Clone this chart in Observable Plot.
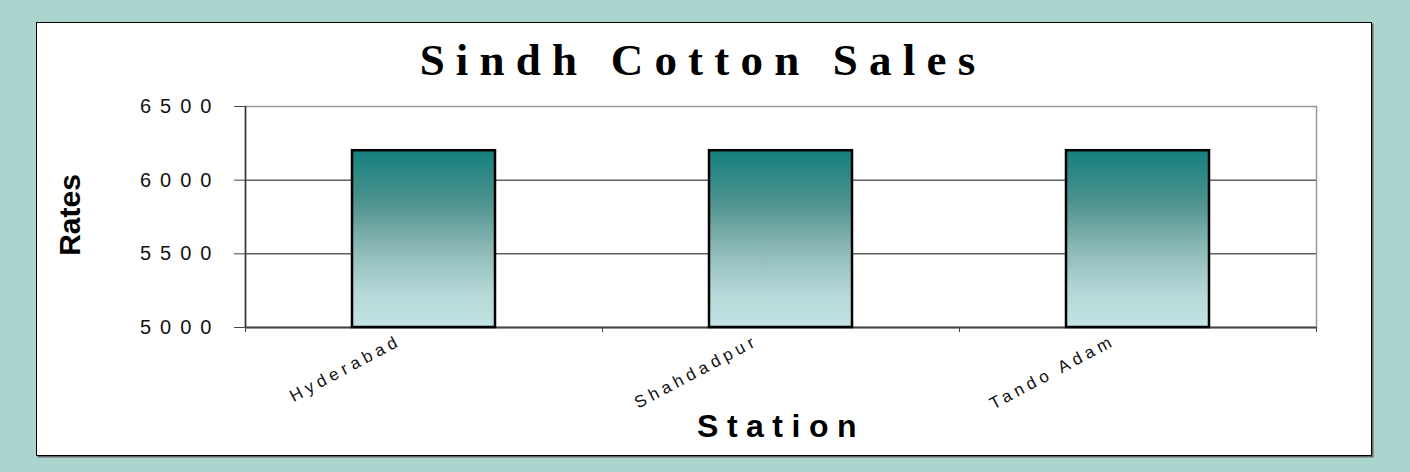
<!DOCTYPE html>
<html><head><meta charset="utf-8">
<script src="https://cdn.jsdelivr.net/npm/d3@7"></script>
<script src="https://cdn.jsdelivr.net/npm/@observablehq/plot@0.6"></script>
<style>
body{margin:0;width:1410px;height:472px;background:#abd4cf;position:relative;overflow:hidden;font-family:"Liberation Sans",Arial,sans-serif}
#panel{position:absolute;left:36px;top:22px;width:1334px;height:432px;background:#fff;border:1.5px solid #000;box-shadow:1.5px 1.5px 0 #666}
#title{position:absolute;left:703px;top:38px;transform:translateX(-50%);white-space:nowrap;font-family:"Liberation Serif","Times New Roman",serif;font-weight:bold;font-size:45px;line-height:45px;letter-spacing:11.2px;color:#000}
#ylabel{position:absolute;left:70px;top:215px;transform:translate(-50%,-50%) rotate(-90deg);white-space:nowrap;font-weight:bold;font-size:30px;line-height:30px;color:#000}
#xlabel{position:absolute;left:781px;top:410px;transform:translateX(-50%);white-space:nowrap;font-weight:bold;font-size:32px;line-height:32px;letter-spacing:8.5px;color:#000}
#chart{position:absolute;left:0;top:0}
g[aria-label="y-axis tick label"] text{letter-spacing:9px}
g[aria-label="text"] text{letter-spacing:4.5px}
</style>
</head><body>
<div id="panel"></div>
<div id="title">Sindh Cotton Sales</div>
<div id="ylabel">Rates</div>
<div id="xlabel">Station</div>
<div id="chart"></div>
<script>
const stations = ["Hyderabad", "Shahdadpur", "Tando Adam"];
const rates = [6200, 6200, 6200];
const yTicks = [5000, 5500, 6000, 6500];
const yDomain = [5000, 6500];

const data = stations.map((s, i) => ({station: s, rate: rates[i]}));
const W = 1410, H = 472, mL = 245, mR = 94, mT = 106, mB = 145;
const step = (W - mL - mR) / stations.length;

const plot = Plot.plot({
  width: W, height: H,
  marginLeft: mL, marginRight: mR, marginTop: mT, marginBottom: mB,
  style: {background: "transparent", fontFamily: "'Liberation Sans', Arial, sans-serif", overflow: "visible"},
  x: {domain: stations, paddingInner: 0.6, paddingOuter: 0.3, axis: null, label: null},
  y: {domain: yDomain, axis: null, label: null},
  marks: [
    Plot.ruleY(yTicks.slice(1, -1), {stroke: "#111", strokeWidth: 1}),
    Plot.frame({stroke: "#999", strokeWidth: 1.5}),
    Plot.ruleY([yDomain[0]], {stroke: "#444", strokeWidth: 2}),
    Plot.ruleX([stations[0]], {x: d => d, dx: -step / 2, stroke: "#333", strokeWidth: 1.5}),
    Plot.axisY({ticks: yTicks, label: null, tickSize: 11, tickPadding: 14, fontSize: 20, tickFormat: d => String(d), stroke: "#444", fill: "#111"}),
    Plot.axisX({label: null, tickSize: 5, dx: step / 2, tickFormat: () => "", stroke: "#444"}),
    Plot.axisX({ticks: [stations[0]], label: null, tickSize: 5, dx: -step / 2, tickFormat: () => "", stroke: "#444"}),
    Plot.barY(data, {x: "station", y1: yDomain[0], y2: "rate", fill: "url(#barGrad)", stroke: "#000", strokeWidth: 2.5}),
    Plot.text(stations, {x: d => d, frameAnchor: "bottom", rotate: -28, textAnchor: "end", lineAnchor: "top", dx: -27, dy: 6, fontSize: 17, fill: "#111"})
  ]
});

const defs = d3.select(plot).insert("defs", ":first-child");
const grad = defs.append("linearGradient").attr("id", "barGrad")
  .attr("x1", 0).attr("y1", 0).attr("x2", 0).attr("y2", 1);
[[0, "#14807e"], [0.3, "#4f938f"], [0.55, "#8ab8b5"], [0.8, "#b4d8d7"], [1, "#c2e3e3"]]
  .forEach(([o, c]) => grad.append("stop").attr("offset", o).attr("stop-color", c));

document.getElementById("chart").appendChild(plot);
</script>
</body></html>
